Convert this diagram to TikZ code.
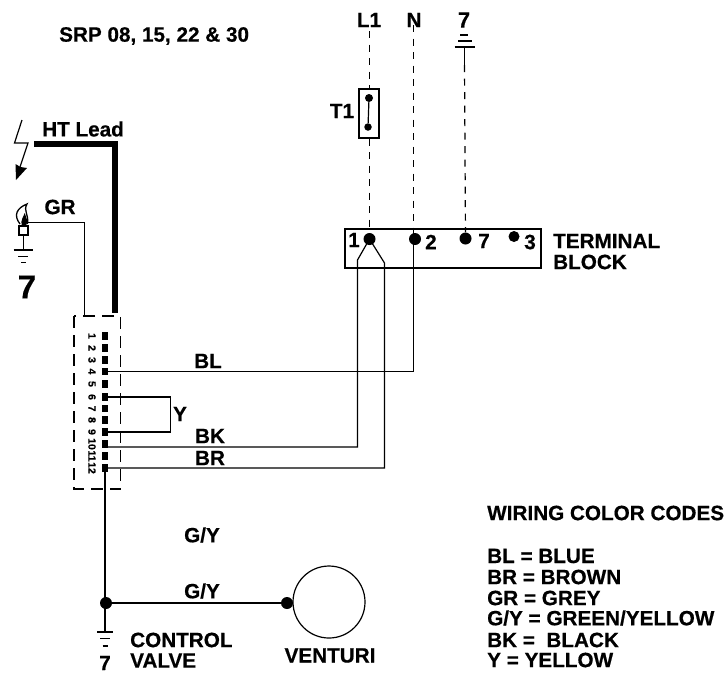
\documentclass[tikz,border=0pt]{standalone}
\usepackage{fontspec}
\setmainfont{Liberation Sans}[BoldFeatures={FakeBold=0.5}]
\usetikzlibrary{arrows.meta,calc}
\tikzset{
  wire/.style={line width=1.2pt,black},
  thin wire/.style={line width=1pt,black},
  dashwire/.style={line width=1.2pt,black,dash pattern=on 7pt off 6.5pt},
  dotn/.style={circle,fill=black,inner sep=0pt,minimum size=#1},
  dotn/.default=12pt,
  pin/.style={rectangle,fill=black,inner sep=0pt,minimum width=6.5pt,minimum height=7.5pt},
  lab/.style={font=\bfseries\fontsize{20.7}{20.7}\selectfont,inner sep=0pt,text=black},
  leftlab/.style={lab,anchor=west},
  pinno/.style={font=\bfseries\fontsize{10.5}{10.5}\selectfont,inner sep=0pt,rotate=-90},
  gnd/.style={line width=1.2pt,black},
}
\begin{document}
\begin{tikzpicture}[x=1pt,y=-1pt]
\useasboundingbox (0,0) rectangle (727,673);
\fill[white] (0,0) rectangle (727,673);

\node[leftlab] (title) at (59,36) {SRP 08, 15, 22 \& 30};

% connector block
\draw[line width=1.2pt,dash pattern=on 12pt off 7pt] (74,316) rectangle (120.5,489);
\foreach \n/\y/\t in {1/336/1,2/348/2,3/360/3,4/371.5/4,5/384/5,6/397/6,7/408.5/7,8/420/8,9/432/9,10/444/10,11/456/11,12/468/12}{
  \node[pin] (p\n) at (105,\y) {};
  \node[pinno] (t\n) at (92,\y) {\t};
}

% HT lead
\coordinate (htstart) at (34,144);
\coordinate (htend) at (115,313);
\draw[line width=6pt,miter limit=10] (htstart) -| (htend);
\node[leftlab] (ht) at (42,129) {HT Lead};

% bolt
\coordinate (b0) at (22,120);
\coordinate (b1) at (14.5,143);
\coordinate (b2) at (28,143);
\coordinate (b3) at (16,180);
\draw[line width=1.2pt] (b0) -- (b1) -- (b2) -- (20,167);
\fill (b3) -- (15.5,164) -- (20.5,167) -- (27,168) -- cycle;

% flame and electrode
\node[draw,line width=1.2pt,inner sep=0pt,minimum width=9pt,minimum height=9pt] (elec) at (23.5,230.5) {};
\draw[line width=1.3pt] (20,224) .. controls (13,215) and (17,208) .. (27,204) .. controls (23,211) and (29,214) .. (27.5,224);
\fill (22,226) .. controls (20,219) and (24,217) .. (24.5,213) .. controls (27,218) and (28,222) .. (26,226) -- cycle;
\coordinate (gr1) at (27,222);
\coordinate (gr2) at (84.5,316);
\draw[thin wire] (gr1) -| (gr2);
\node[lab] (grl) at (60,207) {GR};

% left ground
\coordinate (lg) at (23.5,250);
\draw[wire] (elec.south) -- (lg);
\draw[gnd] (13.5,250) -- (33,250) (18,256.5) -- (28,256.5) (21,262.5) -- (26,262.5);
\node[lab,font=\bfseries\fontsize{33}{33}\selectfont] (sev) at (27,287) {7};

% supply
\node[lab] (l1) at (369,20) {L1};
\node[lab] (n) at (414,20) {N};
\node[lab,font=\bfseries\fontsize{22}{22}\selectfont] (s7) at (464,20) {7};
\coordinate (l1top) at (369.5,31);
\coordinate (ntop) at (413.5,25);
\coordinate (g7) at (464.5,47);
\coordinate (g7b) at (464.5,65);

\node[draw,line width=1.2pt,inner sep=0pt,minimum width=20pt,minimum height=49pt] (t1box) at (369,113.5) {};
\node[dotn=8pt] (ta) at (369,98) {};
\node[dotn=7.5pt] (tb) at (368,127) {};
\draw[line width=1.2pt] (ta) -- (tb);
\node[lab] (t1) at (342,111) {T1};

% terminal block
\node[draw,line width=1.2pt,inner sep=0pt,minimum width=196pt,minimum height=39pt] (tb1) at (443,248.5) {};
\node[dotn=12pt] (d1) at (369.5,239) {};
\node[dotn=12pt] (d2) at (415,239) {};
\node[dotn=12pt] (d7) at (465.5,238.5) {};
\node[dotn=11pt] (d3) at (514,236.5) {};
\node[lab] (n1) at (354,240) {1};
\node[lab] (n2) at (431,242) {2};
\node[lab] (n7) at (484,241) {7};
\node[lab] (n3) at (530,242) {3};
\node[leftlab] (tb2) at (553,241) {TERMINAL};
\node[leftlab] (tb3) at (553,262) {BLOCK};

\draw[dashwire] (l1top) -- (l1top |- t1box.north);
\draw[dashwire] (l1top |- t1box.south) -- (d1);
\draw[dashwire] (ntop) -- (ntop |- d2);
\draw[wire] (g7) -- (g7b);
\draw[dashwire] (g7b) -- (d7);
\draw[gnd] (454.5,47) -- (475,47) (458,41) -- (471.5,41) (460,35) -- (468,35);

% wires
\coordinate (k1) at (357.5,260);
\coordinate (k2) at (384.5,263);
\coordinate (k3) at (413.5,239);
\draw[wire] (k3) -- (k3 |- p4) -- (p4.center);
\draw[wire] ($(p10.center)+(0,3)$) -- (357.5,447) -- (k1) -- (d1.center) -- (k2) -- (384.5,468) -- (p12.center);
\draw[wire] (p6.center) -- (170.5,397) -- (170.5,432) -- (p9.center);

\node[lab] (bl) at (208,361) {BL};
\node[lab] (y) at (180,414) {Y};
\node[lab] (bk) at (210,436) {BK};
\node[lab] (br) at (210,458) {BR};
\node[lab] (gy1) at (202,535) {G/Y};
\node[lab] (gy2) at (202,591) {G/Y};

% bottom
\node[dotn=12pt] (j) at (106,603) {};
\node[dotn=12pt] (vd) at (287,603) {};
\node[draw,circle,line width=1.2pt,inner sep=0pt,minimum size=72pt] (v) at (329,602) {};
\coordinate (bg) at (105,632);
\draw[wire] (p12.center) -- (bg);
\draw[wire] (j) -- (vd);
\draw[gnd] (97,632) -- (113,632) (100,638.5) -- (110,638.5) (102.5,646) -- (107.5,646);
\node[lab] (b7) at (105,663) {7};
\node[leftlab] (cv1) at (130,640) {CONTROL};
\node[leftlab] (cv2) at (130,660.5) {VALVE};
\node[lab] (vt) at (330,655.5) {VENTURI};

% legend
\node[leftlab] (w) at (487,513) {WIRING COLOR CODES};
\node[leftlab] (c1) at (487,556) {BL = BLUE};
\node[leftlab] (c2) at (487,577) {BR = BROWN};
\node[leftlab] (c3) at (487,598) {GR = GREY};
\node[leftlab] (c4) at (487,618) {G/Y = GREEN/YELLOW};
\node[leftlab] (c5) at (487,640) {BK = \ BLACK};
\node[leftlab] (c6) at (487,660) {Y = YELLOW};
\end{tikzpicture}
\end{document}
